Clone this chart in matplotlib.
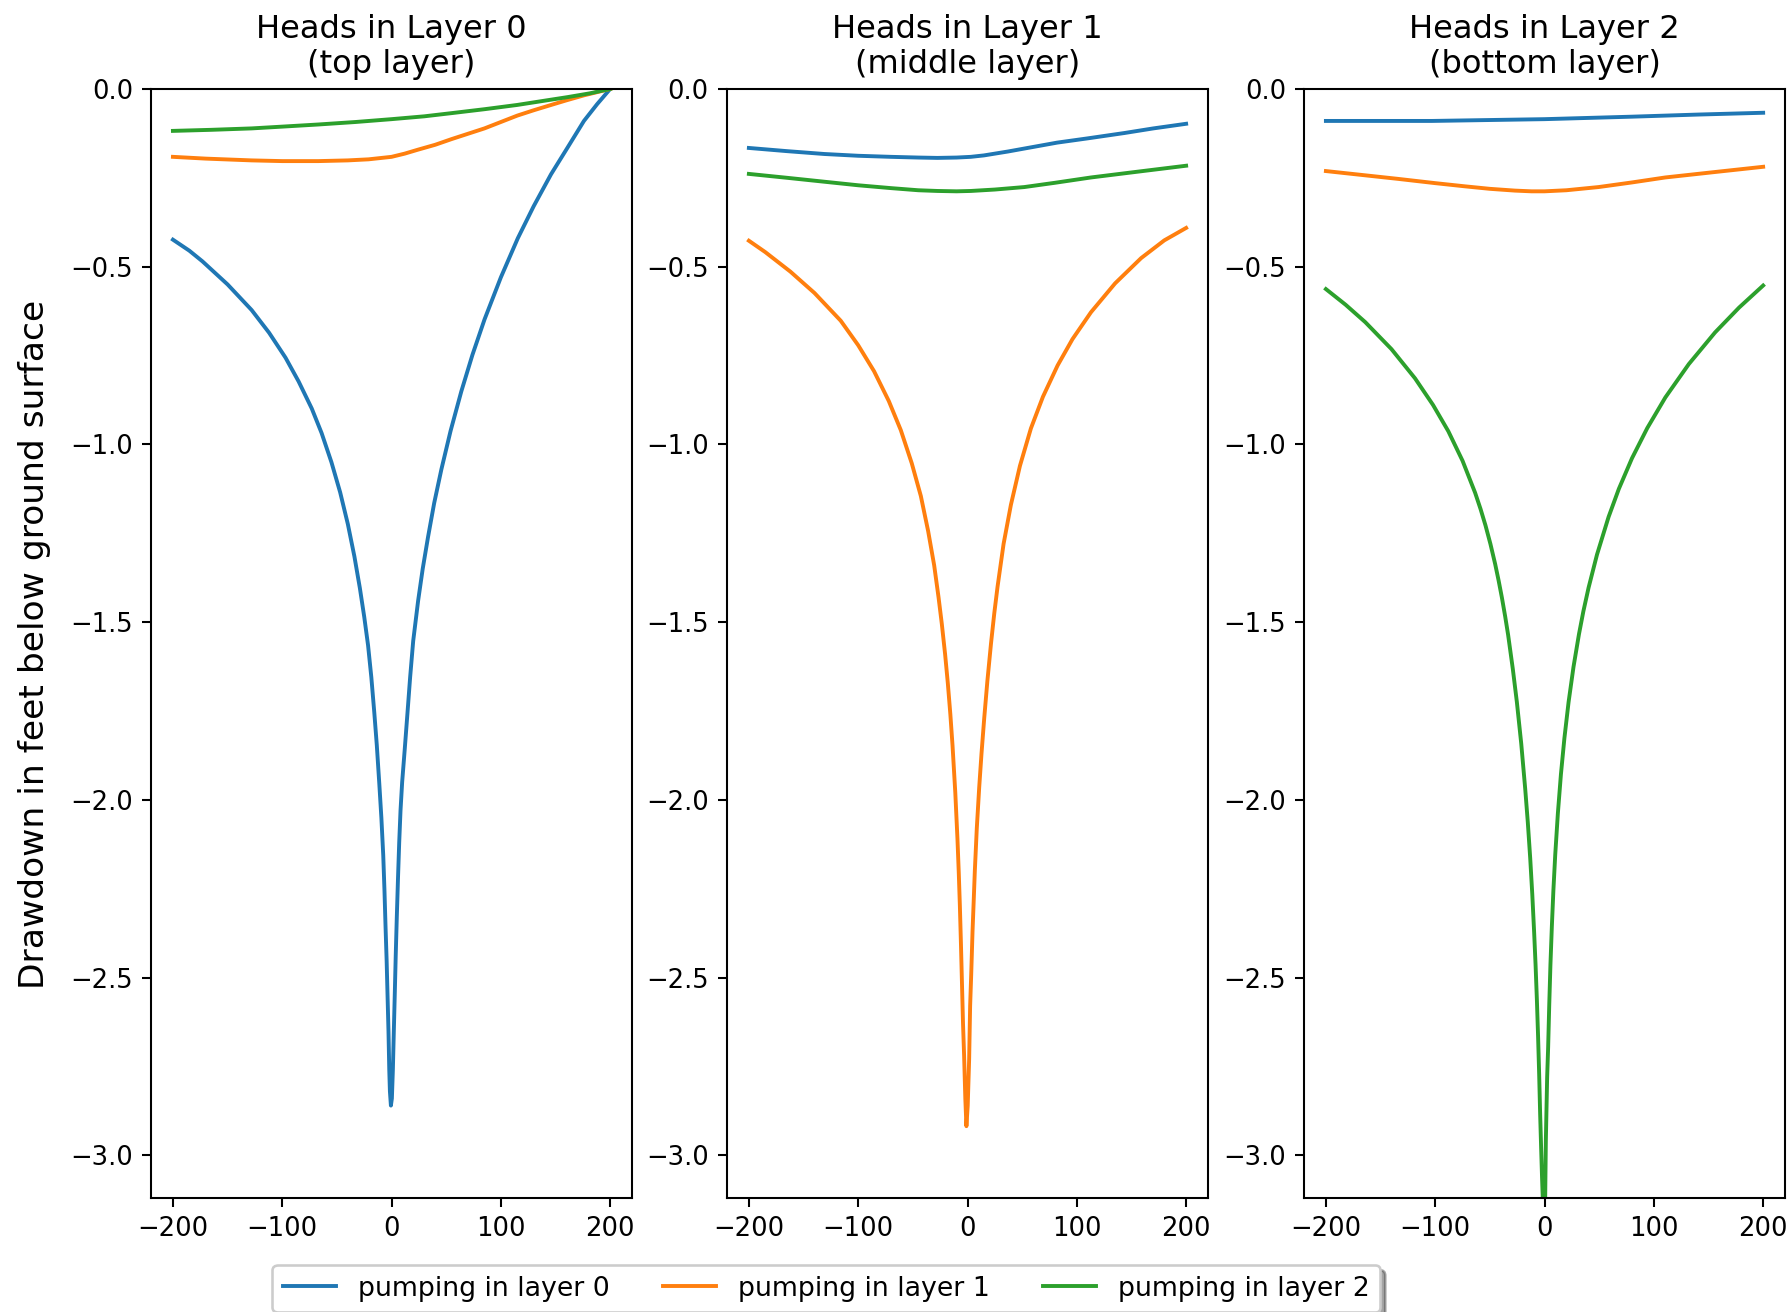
import matplotlib
matplotlib.use("Agg")
import matplotlib.pyplot as plt

# x positions (ft from well) and drawdown (ft)
# --- heads in layer 0 ---
l0_p0_x = [-200, -185, -173, -150, -128, -112, -97, -85, -73, -64, -55, -47, -40, -34, -29, -25,
           -21.5, -18.5, -15.8, -13.5, -11.2, -9.3, -7.6, -6.5, -5.5, -4.5, -3.6, -2.8, -2.1, -1.5, -0.6,
           0.3, 1.2, 2.0, 3.0, 3.8, 4.8, 5.9, 7.0, 8.2, 9.7, 12.0, 14.6, 17.0, 19.8, 24.3, 28.5, 33.4,
           39, 45.6, 54, 63.8, 74, 85.1, 100, 115.5, 130, 145.9, 161, 176, 188, 200]
l0_p0_y = [-0.424, -0.455, -0.485, -0.55, -0.622, -0.686, -0.756, -0.823, -0.899, -0.968, -1.05,
           -1.135, -1.224, -1.315, -1.404, -1.485, -1.565, -1.655, -1.754, -1.846, -1.955, -2.051,
           -2.156, -2.253, -2.357, -2.452, -2.558, -2.652, -2.759, -2.82, -2.86,
           -2.84, -2.76, -2.66, -2.54, -2.44, -2.33, -2.22, -2.12, -2.03, -1.95, -1.86, -1.754,
           -1.655, -1.553, -1.44, -1.35, -1.26, -1.165, -1.07, -0.962, -0.851, -0.748, -0.648, -0.53,
           -0.42, -0.33, -0.24, -0.165, -0.09, -0.043, 0.0]
l0_p1_x = [-200, -170, -128, -100, -67, -40, -21, 0, 12, 24, 40, 55, 70, 85, 100, 115, 130, 146, 160,
           176, 188, 200]
l0_p1_y = [-0.191, -0.196, -0.201, -0.203, -0.203, -0.201, -0.198, -0.191, -0.182, -0.171, -0.157,
           -0.141, -0.126, -0.111, -0.093, -0.075, -0.06, -0.045, -0.032, -0.018, -0.009, 0.0]
l0_p2_x = [-200, -165, -128, -100, -67, -33, 0, 30, 55, 85, 115, 140, 161, 182, 200]
l0_p2_y = [-0.118, -0.115, -0.111, -0.106, -0.100, -0.093, -0.085, -0.077, -0.068, -0.057, -0.045,
           -0.033, -0.023, -0.012, 0.0]

# --- heads in layer 1 ---
l1_p0_x = [-200, -165, -131, -100, -70, -45, -27.5, -10, 3, 15, 25, 37, 55, 82, 110, 143.5, 170, 200]
l1_p0_y = [-0.166, -0.175, -0.183, -0.188, -0.191, -0.193, -0.194, -0.193, -0.191, -0.187, -0.182,
           -0.176, -0.166, -0.151, -0.139, -0.124, -0.111, -0.098]
l1_p1_x = [-200, -185, -162, -140, -116, -100, -85.5, -72, -61, -51, -42.7, -36, -30.5, -26.5, -23.5,
           -20.5, -18, -15.7, -13.7, -11.2, -9.2, -8, -7.0, -6, -5.2, -4.1, -3.1, -2.0, -1.0,
           0.2, 1.5, 2.4, 3.4, 4.6, 5.6, 6.7, 8.5, 10.7, 12.8, 15.3, 18.2, 21.5, 24.5, 27.5, 33, 39.7,
           48, 58, 69, 82.4, 96, 113, 135, 158.8, 180, 200]
l1_p1_y = [-0.427, -0.459, -0.514, -0.574, -0.652, -0.721, -0.794, -0.878, -0.960, -1.053, -1.145,
           -1.244, -1.340, -1.43, -1.505, -1.59, -1.672, -1.759, -1.847, -1.978, -2.109, -2.204,
           -2.296, -2.405, -2.50, -2.63, -2.72, -2.84, -2.918,
           -2.86, -2.73, -2.58, -2.49, -2.37, -2.29, -2.20, -2.08, -1.965, -1.87, -1.77, -1.665,
           -1.56, -1.475, -1.40, -1.28, -1.17, -1.06, -0.955, -0.866, -0.778, -0.704, -0.628, -0.547,
           -0.476, -0.426, -0.391]
l1_p2_x = [-200, -165, -131, -100, -70, -45, -27.5, -10, 3, 25, 52, 80, 113, 155, 200]
l1_p2_y = [-0.239, -0.250, -0.261, -0.271, -0.279, -0.285, -0.287, -0.288, -0.287, -0.283, -0.276,
           -0.264, -0.249, -0.233, -0.216]

# --- heads in layer 2 ---
l2_p0_x = [-200, -103, 0, 80, 141, 200]
l2_p0_y = [-0.090, -0.090, -0.085, -0.078, -0.072, -0.067]
l2_p1_x = [-200, -134, -100, -72.7, -50, -27, -12, 0, 20, 49.5, 80, 110.5, 155, 200]
l2_p1_y = [-0.231, -0.253, -0.265, -0.274, -0.281, -0.286, -0.288, -0.288, -0.285, -0.276, -0.263,
           -0.249, -0.234, -0.219]
l2_p2_x = [-200, -182, -164, -140, -118.5, -102, -88, -75, -63.5, -58.5, -54, -49.5, -45.2, -42, -39,
           -36, -33.3, -29, -25.3, -21.3, -17.7, -15.3, -13.1, -11.2, -9.5, -8.2, -7.0, -5.9, -4.9,
           -4.0, -3.1, -2.3, -1.5, -0.4,
           0.6, 0.9, 1.2, 1.8, 2.4, 3.3, 4.3, 5.4, 6.7, 8.1, 9.8, 12.2, 15.0, 18.2, 22.0, 26.5, 31.5,
           35.5, 40.3, 48, 58.6, 68, 80, 94, 110.5, 132, 156, 178, 200]
l2_p2_y = [-0.563, -0.607, -0.656, -0.732, -0.814, -0.889, -0.963, -1.046, -1.136, -1.182, -1.228,
           -1.28, -1.336, -1.383, -1.431, -1.484, -1.536, -1.632, -1.725, -1.842, -1.968, -2.063,
           -2.164, -2.266, -2.373, -2.464, -2.562, -2.665, -2.773, -2.885, -2.98, -3.06, -3.13, -3.3,
           -3.12, -3.04, -2.96, -2.87, -2.78, -2.697, -2.578, -2.464, -2.356, -2.255, -2.154, -2.038,
           -1.928, -1.826, -1.725, -1.626, -1.534, -1.47, -1.403, -1.31, -1.204, -1.125, -1.039,
           -0.954, -0.868, -0.774, -0.685, -0.615, -0.553]

titles = ["Heads in Layer 0\n(top layer)", "Heads in Layer 1\n(middle layer)", "Heads in Layer 2\n(bottom layer)"]
labels = ["pumping in layer 0", "pumping in layer 1", "pumping in layer 2"]

data = [
    [(l0_p0_x, l0_p0_y), (l0_p1_x, l0_p1_y), (l0_p2_x, l0_p2_y)],
    [(l1_p0_x, l1_p0_y), (l1_p1_x, l1_p1_y), (l1_p2_x, l1_p2_y)],
    [(l2_p0_x, l2_p0_y), (l2_p1_x, l2_p1_y), (l2_p2_x, l2_p2_y)],
]

fig = plt.figure(figsize=(9.6, 7.0286), dpi=186.667)
lefts = [0.0843, 0.4057, 0.7277]
for i in range(3):
    ax = fig.add_axes([lefts[i], 0.0869, 0.2684, 0.8453])
    lines = []
    for j, (x, y) in enumerate(data[i]):
        ln, = ax.plot(x, y, color=f"C{j}", label=labels[j])
        lines.append(ln)
    ax.set_title(titles[i], fontsize=12.4)
    ax.set_ylim(-3.12, 0)
    ax.set_xticks([-200, -100, 0, 100, 200])

fig.text(0.019, 0.509, "Drawdown in feet below ground surface", rotation=90,
         ha="center", va="center", fontsize=13.3)

fig.legend(lines, labels, loc="upper center", bbox_to_anchor=(0.461, 0.0358),
           borderaxespad=0, ncol=3, shadow=True, fontsize=10.3)

fig.savefig("out.png", dpi=186.667)
